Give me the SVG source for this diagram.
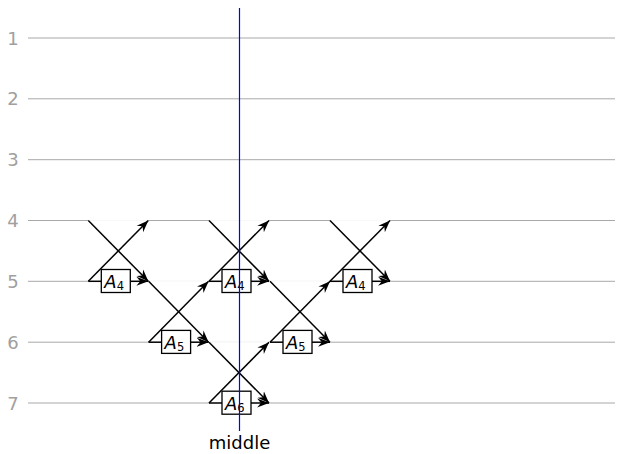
<svg xmlns="http://www.w3.org/2000/svg" width="629" height="454" viewBox="0 0 629 454">
  <style>
    .wire { stroke: #a8a8a8; stroke-width: 1; fill: none; }
    .cover { stroke: #ffffff; stroke-width: 2; opacity: 0.92; fill: none; }
    .row { font-family: "DejaVu Sans", "Liberation Sans", sans-serif; font-size: 18px; fill: #a0a0a0; text-anchor: middle; }
    .lead { stroke: #000; stroke-width: 1.5; fill: none; }
    .arr { stroke: #000; stroke-width: 1.5; fill: none; marker-end: url(#tip); }
    .box { fill: #fff; stroke: #000; stroke-width: 1.3; }
    .lbl { font-family: "DejaVu Sans", "Liberation Sans", sans-serif; font-size: 18px; font-style: italic; fill: #000; }
    .sub { font-size: 11.5px; font-style: normal; }
    .midtxt { font-family: "DejaVu Sans", "Liberation Sans", sans-serif; font-size: 18px; fill: #000; text-anchor: middle; }
  </style>
  <defs>
    <marker id="tip" markerUnits="userSpaceOnUse" markerWidth="13" markerHeight="11" viewBox="-11 -4.5 12 9" refX="0" refY="0" orient="auto">
      <path d="M0,0 L-11,-4.2 L-7.5,0 L-11,4.2 Z" fill="#000"/>
    </marker>
  </defs>

  <!-- wires -->
  <g id="wires">
    <line class="wire" x1="28" y1="38" x2="615" y2="38"/>
    <line class="wire" x1="28" y1="98.8" x2="615" y2="98.8"/>
    <line class="wire" x1="28" y1="159.7" x2="615" y2="159.7"/>
    <line class="wire" x1="28" y1="220.5" x2="615" y2="220.5"/>
    <line class="wire" x1="28" y1="281.3" x2="615" y2="281.3"/>
    <line class="wire" x1="28" y1="342.2" x2="615" y2="342.2"/>
    <line class="wire" x1="28" y1="403" x2="615" y2="403"/>
    <text class="row" x="13" y="44.5">1</text>
    <text class="row" x="13" y="105.3">2</text>
    <text class="row" x="13" y="166.2">3</text>
    <text class="row" x="13" y="227">4</text>
    <text class="row" x="13" y="287.8">5</text>
    <text class="row" x="13" y="348.7">6</text>
    <text class="row" x="13" y="409.5">7</text>
  </g>

  <!-- wire segments hidden under the gates -->
  <g id="covers">
    <line class="cover" x1="88.3" y1="220.5" x2="148.3" y2="220.5"/>
    <line class="cover" x1="209" y1="220.5" x2="269" y2="220.5"/>
    <line class="cover" x1="330" y1="220.5" x2="390" y2="220.5"/>
    <line class="cover" x1="88.3" y1="281.3" x2="390" y2="281.3"/>
    <line class="cover" x1="148.6" y1="342.2" x2="330" y2="342.2"/>
    <line class="cover" x1="209" y1="403" x2="269" y2="403"/>
  </g>

  <g id="connectors">
    <!-- gate A4, rows 4-5, left -->
    <line class="arr" x1="88.3" y1="220.5" x2="148.3" y2="281.3"/>
    <line class="arr" x1="88.3" y1="281.3" x2="148.3" y2="220.5"/>
    <line class="lead" x1="88.3" y1="281.3" x2="101.3" y2="281.3"/>
    <line class="arr" x1="130.3" y1="281.3" x2="148.3" y2="281.3"/>
    <!-- gate A5, rows 5-6, left -->
    <line class="arr" x1="148.6" y1="281.3" x2="208.6" y2="342.2"/>
    <line class="arr" x1="148.6" y1="342.2" x2="208.6" y2="281.3"/>
    <line class="lead" x1="148.6" y1="342.2" x2="161.6" y2="342.2"/>
    <line class="arr" x1="190.6" y1="342.2" x2="208.6" y2="342.2"/>
    <!-- gate A6, rows 6-7 -->
    <line class="arr" x1="209" y1="342.2" x2="269" y2="403"/>
    <line class="arr" x1="209" y1="403" x2="269" y2="342.2"/>
    <line class="lead" x1="209" y1="403" x2="222" y2="403"/>
    <line class="arr" x1="251" y1="403" x2="269" y2="403"/>
    <!-- gate A4, rows 4-5, middle -->
    <line class="arr" x1="209" y1="220.5" x2="269" y2="281.3"/>
    <line class="arr" x1="209" y1="281.3" x2="269" y2="220.5"/>
    <line class="lead" x1="209" y1="281.3" x2="222" y2="281.3"/>
    <line class="arr" x1="251" y1="281.3" x2="269" y2="281.3"/>
    <!-- gate A5, rows 5-6, right -->
    <line class="arr" x1="270" y1="281.3" x2="330" y2="342.2"/>
    <line class="arr" x1="270" y1="342.2" x2="330" y2="281.3"/>
    <line class="lead" x1="270" y1="342.2" x2="283" y2="342.2"/>
    <line class="arr" x1="312" y1="342.2" x2="330" y2="342.2"/>
    <!-- gate A4, rows 4-5, right -->
    <line class="arr" x1="330" y1="220.5" x2="390" y2="281.3"/>
    <line class="arr" x1="330" y1="281.3" x2="390" y2="220.5"/>
    <line class="lead" x1="330" y1="281.3" x2="343" y2="281.3"/>
    <line class="arr" x1="372" y1="281.3" x2="390" y2="281.3"/>
  </g>

  <g id="gate-a4-left">
    <rect class="box" x="101.3" y="269.5" width="29" height="23"/>
    <text class="lbl" x="104.3" y="288">A<tspan class="sub" dy="2">4</tspan></text>
  </g>
  <g id="gate-a5-left">
    <rect class="box" x="161.6" y="330.4" width="29" height="23"/>
    <text class="lbl" x="164.6" y="348.9">A<tspan class="sub" dy="2">5</tspan></text>
  </g>
  <g id="gate-a6">
    <rect class="box" x="222" y="391.2" width="29" height="23"/>
    <text class="lbl" x="225" y="409.7">A<tspan class="sub" dy="2">6</tspan></text>
  </g>
  <g id="gate-a4-middle">
    <rect class="box" x="222" y="269.5" width="29" height="23"/>
    <text class="lbl" x="225" y="288">A<tspan class="sub" dy="2">4</tspan></text>
  </g>
  <g id="gate-a5-right">
    <rect class="box" x="283" y="330.4" width="29" height="23"/>
    <text class="lbl" x="286" y="348.9">A<tspan class="sub" dy="2">5</tspan></text>
  </g>
  <g id="gate-a4-right">
    <rect class="box" x="343" y="269.5" width="29" height="23"/>
    <text class="lbl" x="346" y="288">A<tspan class="sub" dy="2">4</tspan></text>
  </g>

  <g id="middle">
    <line x1="239.5" y1="8" x2="239.5" y2="431" stroke="#0000ff" stroke-width="1.2"/>
    <text class="midtxt" x="239.5" y="449">middle</text>
  </g>
</svg>
